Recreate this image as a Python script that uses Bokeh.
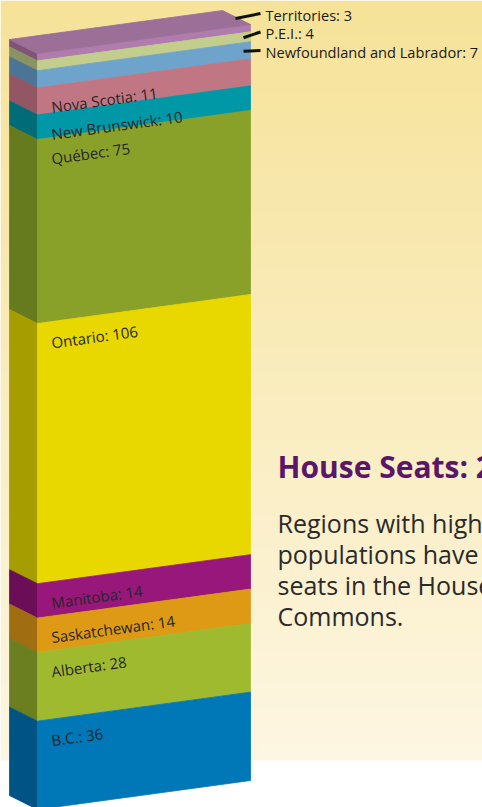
import math
import numpy as np
from bokeh.plotting import figure
from bokeh.models import Range1d
from bokeh.embed import file_html
from bokeh.resources import INLINE
from bokeh.core.properties import value

# ---------------- data (top of the column to bottom) ----------------
regions = ["Territories", "P.E.I.", "Newfoundland and Labrador", "Nova Scotia",
           "New Brunswick", "Québec", "Ontario", "Manitoba", "Saskatchewan",
           "Alberta", "B.C."]
seats = [3, 4, 7, 11, 10, 75, 106, 14, 14, 28, 36]
front_colors = ["#B07CAE", "#C3CE8D", "#6EA3CC", "#C07783", "#0098A7", "#89A129",
                "#E8D800", "#98177B", "#DE9A15", "#A0BA2F", "#0077B6"]
side_colors = ["#7F5479", "#8A9462", "#4B7496", "#935664", "#006C78", "#667A1E",
               "#A69D00", "#6B0E57", "#A06E10", "#6C7F20", "#005485"]
top_color = "#9C6F98"
callout_count = 3  # first three regions are labelled outside the column
title = "House Seats: 2006"
body_lines = ["Regions with higher", "populations have more",
              "seats in the House of", "Commons."]

# ---------------- layout ----------------
W, H = 482, 807
X0, X1 = 37, 250          # front face left / right
DX, DY = 28, 14           # depth of the side (towards upper-left)
RISE = 29                 # front face rises this much from left to right
Y_TOP, Y_BOT = 53, 809
SCALE = (Y_BOT - Y_TOP) / sum(seats)
SLOPE = RISE / (X1 - X0)
ANGLE = math.atan(SLOPE)

p = figure(width=W, height=H, x_range=Range1d(0, W), y_range=Range1d(H, 0),
           output_backend="svg", toolbar_location=None, min_border=0,
           x_axis_type=None, y_axis_type=None)
p.grid.visible = False
p.outline_line_color = None
p.background_fill_color = "white"
p.border_fill_color = "white"

# background gradient panel
n = 90
panel_bottom = 760
edges = np.linspace(0, panel_bottom, n + 1)
c0 = np.array([246, 226, 152])
c1 = np.array([253, 246, 226])
ts = (np.arange(n) + 0.5) / n
grad = ["#%02x%02x%02x" % tuple(np.round(c0 + (c1 - c0) * t).astype(int)) for t in ts]
p.quad(left=0, right=W, top=edges[:-1], bottom=np.minimum(edges[1:] + 0.8, panel_bottom),
       fill_color=grad, line_color=None)

# column
cum = np.concatenate([[0], np.cumsum(seats)])
yt = Y_TOP + cum[:-1] * SCALE
yb = Y_TOP + cum[1:] * SCALE

front_xs = [[X0, X1, X1, X0] for _ in seats]
front_ys = [[t, t - RISE, b - RISE, b] for t, b in zip(yt, yb)]
side_xs = [[X0 - DX, X0, X0, X0 - DX] for _ in seats]
side_ys = [[t - DY, t, b, b - DY] for t, b in zip(yt, yb)]

p.patches(side_xs, side_ys, fill_color=side_colors, line_color=side_colors, line_width=0.8)
p.patches(front_xs, front_ys, fill_color=front_colors, line_color=front_colors, line_width=0.8)
p.patch([X0 - DX, X0, X1, X1 - DX],
        [Y_TOP - DY, Y_TOP, Y_TOP - RISE, Y_TOP - RISE - DY],
        fill_color=top_color, line_color=top_color, line_width=0.8)

# labels inside the column
lx = 51
in_x, in_y, in_txt = [], [], []
for i in range(callout_count, len(seats)):
    in_x.append(lx)
    in_y.append(yt[i] - (lx - X0) * SLOPE + 21)
    in_txt.append(f"{regions[i]}: {seats[i]}")
p.text(x=in_x, y=in_y, text=in_txt, angle=ANGLE, text_font=value("Open Sans"),
       text_font_size="15px", text_color="#262626", text_baseline="alphabetic",
       text_align="left")

# callouts at the top right
label_x = 265
label_y = [51 - (callout_count - 1 - i) * 18.5 for i in range(callout_count)]
sx, sy = [], []
for i in range(callout_count):
    if i == 0:
        x_s = X1 - 15
        y_s = Y_TOP - (x_s - X0) * SLOPE - 8
    else:
        x_s = X1 - 7
        ymid = (yt[i] + yb[i]) / 2
        y_s = ymid - (x_s - X0) * SLOPE
    sx.append(x_s)
    sy.append(y_s)
p.segment(x0=sx, y0=sy, x1=[260] * callout_count, y1=[y - 1 for y in label_y],
          line_color="#111111", line_width=3)
p.text(x=[label_x] * callout_count, y=label_y,
       text=[f"{regions[i]}: {seats[i]}" for i in range(callout_count)],
       text_font=value("Open Sans"), text_font_size="14.6px", text_color="#1A1A1A",
       text_baseline="middle", text_align="left")

# title and body
p.text(x=[277], y=[466], text=[title], text_font=value("Open Sans"),
       text_font_size="30px", text_font_style="bold", text_color="#5B1669",
       text_baseline="alphabetic", text_align="left")
p.text(x=[277] * len(body_lines), y=[522.5 + 31 * i for i in range(len(body_lines))],
       text=body_lines, text_font=value("Open Sans"), text_font_size="25px",
       text_color="#2A2A2A", text_baseline="alphabetic", text_align="left")

open("out.html", "w").write(file_html(p, INLINE))
